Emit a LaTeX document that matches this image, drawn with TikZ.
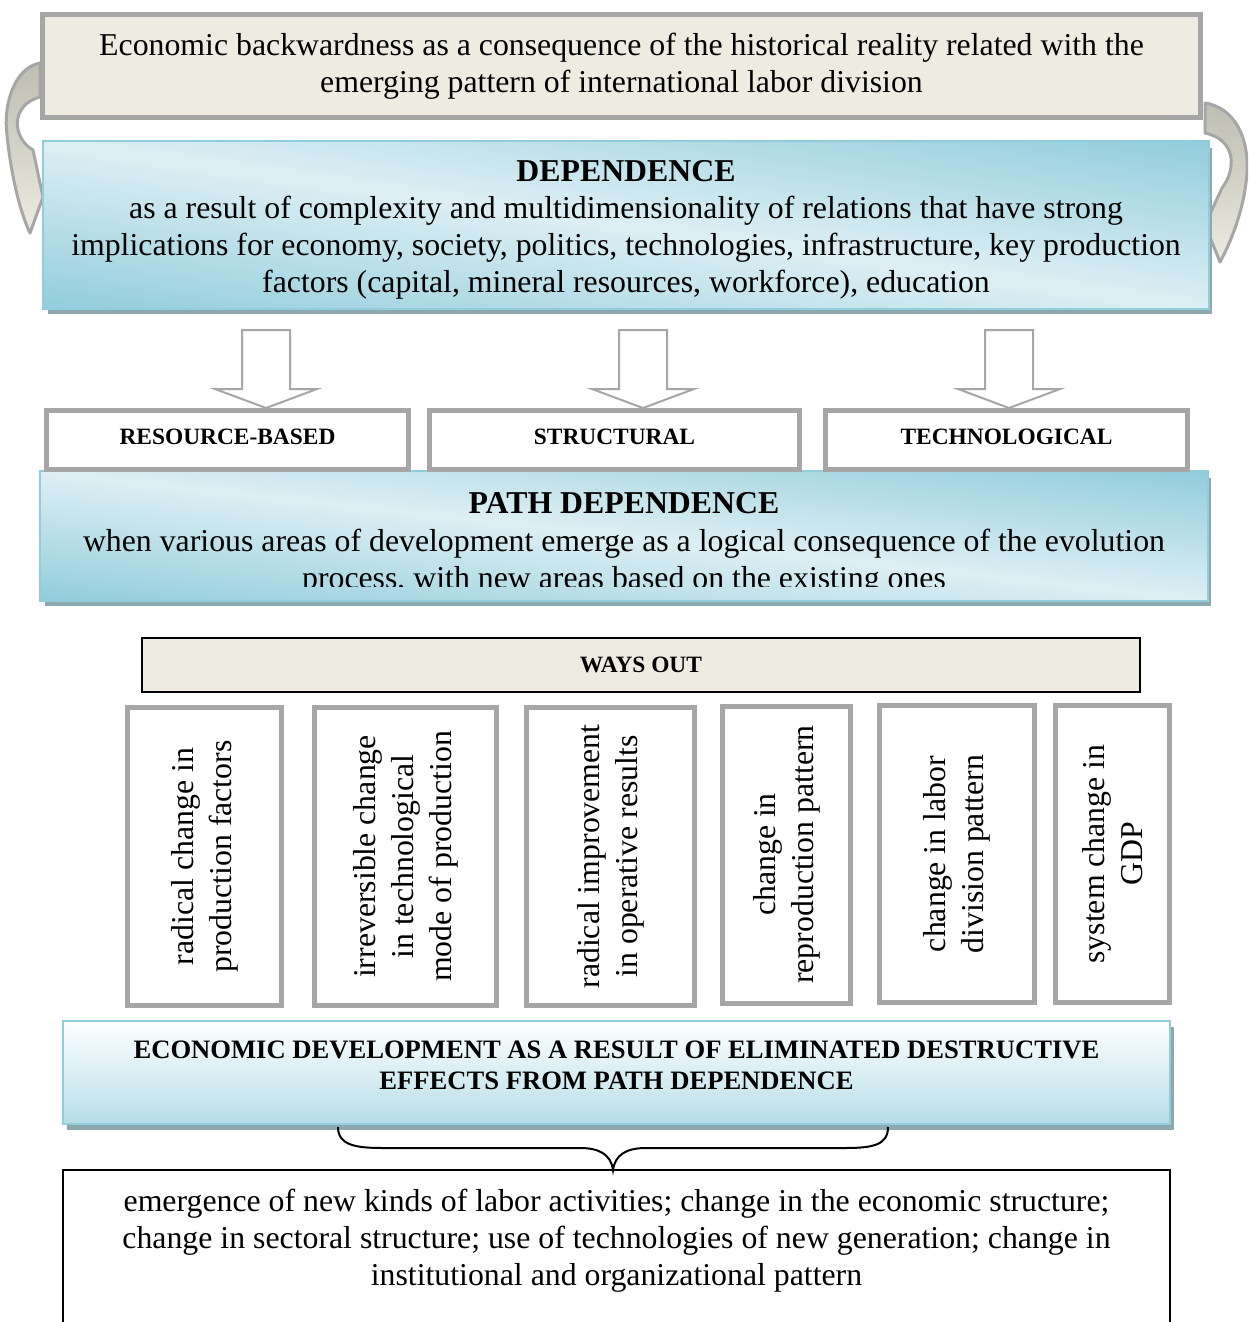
\documentclass[tikz,border=0pt]{standalone}
\usepackage{fontspec}
\setmainfont{Liberation Serif}
\usetikzlibrary{shadows,calc}

\definecolor{beige}{HTML}{EEECE1}
\definecolor{framegray}{HTML}{A6A6A6}
\definecolor{tealdark}{HTML}{92CDDC}
\definecolor{teallight}{HTML}{DDEFF4}
\definecolor{tealmid}{HTML}{B6DDE8}
\definecolor{shadowc}{HTML}{8EA8B0}
\definecolor{arrowdark}{HTML}{BEBEB2}
\definecolor{arrowmid}{HTML}{D4D3C8}

% raise a label a little inside its frame
\newcommand{\liftlabel}[1]{\raisebox{1.5pt}[\height][\depth]{#1}}

\tikzset{
  bodyfont/.style={font=\fontsize{15.9}{18.6}\selectfont},
  smallbold/.style={font=\fontsize{11.7}{14}\selectfont\bfseries},
  grayframe/.style={draw=framegray, line width=2.5pt, fill=white, inner sep=0pt},
  beigeframe/.style={draw=framegray, line width=2.5pt, fill=beige, inner sep=0pt},
  tealbox/.style={draw=tealdark, line width=0.8pt, inner sep=0pt, fill=tealdark,
    drop shadow={shadow xshift=2pt, shadow yshift=-3pt, fill=shadowc, opacity=1}},
  tealband/.style={top color=tealdark, bottom color=tealdark, middle color=teallight},
  tealedge/.style={draw=tealdark, line width=0.8pt},
  palebox/.style={draw=tealdark, line width=0.8pt, inner sep=0pt,
    top color=white, bottom color=tealmid,
    drop shadow={shadow xshift=2pt, shadow yshift=-3pt, fill=shadowc, opacity=1}},
  wayframe/.style={grayframe, rotate=90, align=center,
    font=\fontsize{15.9}{19}\selectfont},
  curvearrow/.style={draw=framegray, line width=1.5pt, line join=round,
    top color=arrowdark, bottom color=beige, middle color=arrowmid},
  blockarrow/.style={draw=framegray, line width=1pt, fill=white},
  downarrow/.pic={\draw[blockarrow] (-24,-78) -- (24,-78) -- (24,-19) -- (51,-19)
      -- (0,0) -- (-51,-19) -- (-24,-19) -- cycle;}
}

\begin{document}
\begin{tikzpicture}[x=0.5pt,y=-0.5pt]
\clip (0,0) rectangle (1248,1322);
\fill[white] (0,0) rectangle (1248,1322);

% curved arrows feeding the dependence box from the top box
\draw[curvearrow] (40,63) .. controls (14,68) and (3,105) .. (7,135)
  .. controls (11,175) and (20,212) .. (30,233) -- (43,197) -- (33,150)
  .. controls (12,138) and (10,105) .. (40,97) -- cycle;
\draw[curvearrow] (1205,103) .. controls (1236,108) and (1249,140) .. (1247,172)
  .. controls (1245,205) and (1233,238) .. (1220,262) -- (1205,225) -- (1222,188)
  .. controls (1236,170) and (1237,140) .. (1205,133) -- cycle;

% top box
\node[beigeframe, minimum width=579pt, minimum height=51.5pt, align=center, bodyfont]
  (origin) at (621.5,66) {Economic backwardness as a consequence of the historical reality related with the\\
  emerging pattern of international labor division};

% dependence box: diagonal light band from the upper left to the lower right corner
\node[tealbox, minimum width=582pt, minimum height=83pt] (dep) at (626,225) {};
\begin{scope}
  \clip (dep.south west) rectangle (dep.north east);
  \shade[tealband, transform canvas={shift={(313pt,-112.5pt)}, yslant=-0.1426}]
    (-300pt,-83pt) rectangle (300pt,83pt);
\end{scope}
\draw[tealedge] (dep.south west) rectangle (dep.north east);
\node[align=center, bodyfont, inner sep=0pt] (deptext) at (626,230) {\textbf{DEPENDENCE}\\
  as a result of complexity and multidimensionality of relations that have strong\\
  implications for economy, society, politics, technologies, infrastructure, key production\\
  factors (capital, mineral resources, workforce), education};

% path dependence box
\node[tealbox, minimum width=583pt, minimum height=64pt] (pathdep) at (624,536) {};
\begin{scope}
  \clip (pathdep.south west) rectangle (pathdep.north east);
  \shade[tealband, transform canvas={shift={(312pt,-268pt)}, yslant=-0.1098}]
    (-300pt,-64pt) rectangle (300pt,64pt);
\end{scope}
\draw[tealedge] (pathdep.south west) rectangle (pathdep.north east);
\begin{scope}
  \clip (41,472) rectangle (1207,586);
  \node[align=center, bodyfont, inner sep=0pt] (pathtext) at (624,544)
    {\textbf{PATH DEPENDENCE}\\
    when various areas of development emerge as a logical consequence of the evolution\\
    process, with new areas based on the existing ones};
\end{scope}

% three kinds of path dependence
\node[grayframe, minimum width=181pt, minimum height=29.5pt, smallbold] (res) at (227.5,440) {\liftlabel{RESOURCE-BASED}};
\node[grayframe, minimum width=185pt, minimum height=29.5pt, smallbold] (str) at (614.5,440) {\liftlabel{STRUCTURAL}};
\node[grayframe, minimum width=181pt, minimum height=29.5pt, smallbold] (tec) at (1006.5,440) {\liftlabel{TECHNOLOGICAL}};

\pic at (266,0 |- res.north) {downarrow};
\pic at (643,0 |- str.north) {downarrow};
\pic at (1009,0 |- tec.north) {downarrow};

% ways out
\node[draw=black, line width=1pt, fill=beige, minimum width=499pt, minimum height=27pt, smallbold]
  (ways) at (641,665) {WAYS OUT};

\node[wayframe, minimum width=149pt, minimum height=77pt] (w1) at (204.5,856.5)
  {radical change in\\production factors};
\node[wayframe, minimum width=149pt, minimum height=91pt] (w2) at (405.5,856.5)
  {irreversible change\\in technological\\mode of production};
\node[wayframe, minimum width=149pt, minimum height=84pt] (w3) at (610.5,856.5)
  {radical improvement\\in operative results};
\node[wayframe, minimum width=148.5pt, minimum height=64pt] (w4) at (786.5,854.5)
  {change in\\reproduction pattern};
\node[wayframe, minimum width=148.5pt, minimum height=77.5pt] (w5) at (957,854)
  {change in labor\\division pattern};
\node[wayframe, minimum width=148.5pt, minimum height=57pt] (w6) at (1112.5,854)
  {system change in\\GDP};

% economic development
\node[palebox, minimum width=553.5pt, minimum height=51.5pt] (econ) at (616.5,1072.5) {};
\node[align=center, inner sep=0pt, font=\fontsize{13.3}{15.5}\selectfont\bfseries]
  (econtext) at (616.5,1065)
  {ECONOMIC DEVELOPMENT AS A RESULT OF ELIMINATED DESTRUCTIVE\\EFFECTS FROM PATH DEPENDENCE};

% brace and outcome box
\coordinate (bl) at (338,1127);
\coordinate (br) at (888,1127);
\coordinate (btip) at (613,1170);
\draw[line width=1pt] (bl) .. controls (338,1145) and (355,1148) .. (383,1148) -- (580,1148)
  .. controls (600,1148) and (611,1155) .. (btip)
  .. controls (615,1155) and (626,1148) .. (646,1148) -- (845,1148)
  .. controls (873,1148) and (888,1145) .. (br);

\draw[line width=1pt] (63,1340) -- (63,1170) -- (1170,1170) -- (1170,1340);
\node[align=center, inner sep=0pt, bodyfont] (outcome) at (616.5,1241)
  {emergence of new kinds of labor activities; change in the economic structure;\\
  change in sectoral structure; use of technologies of new generation; change in\\
  institutional and organizational pattern};
\end{tikzpicture}
\end{document}
